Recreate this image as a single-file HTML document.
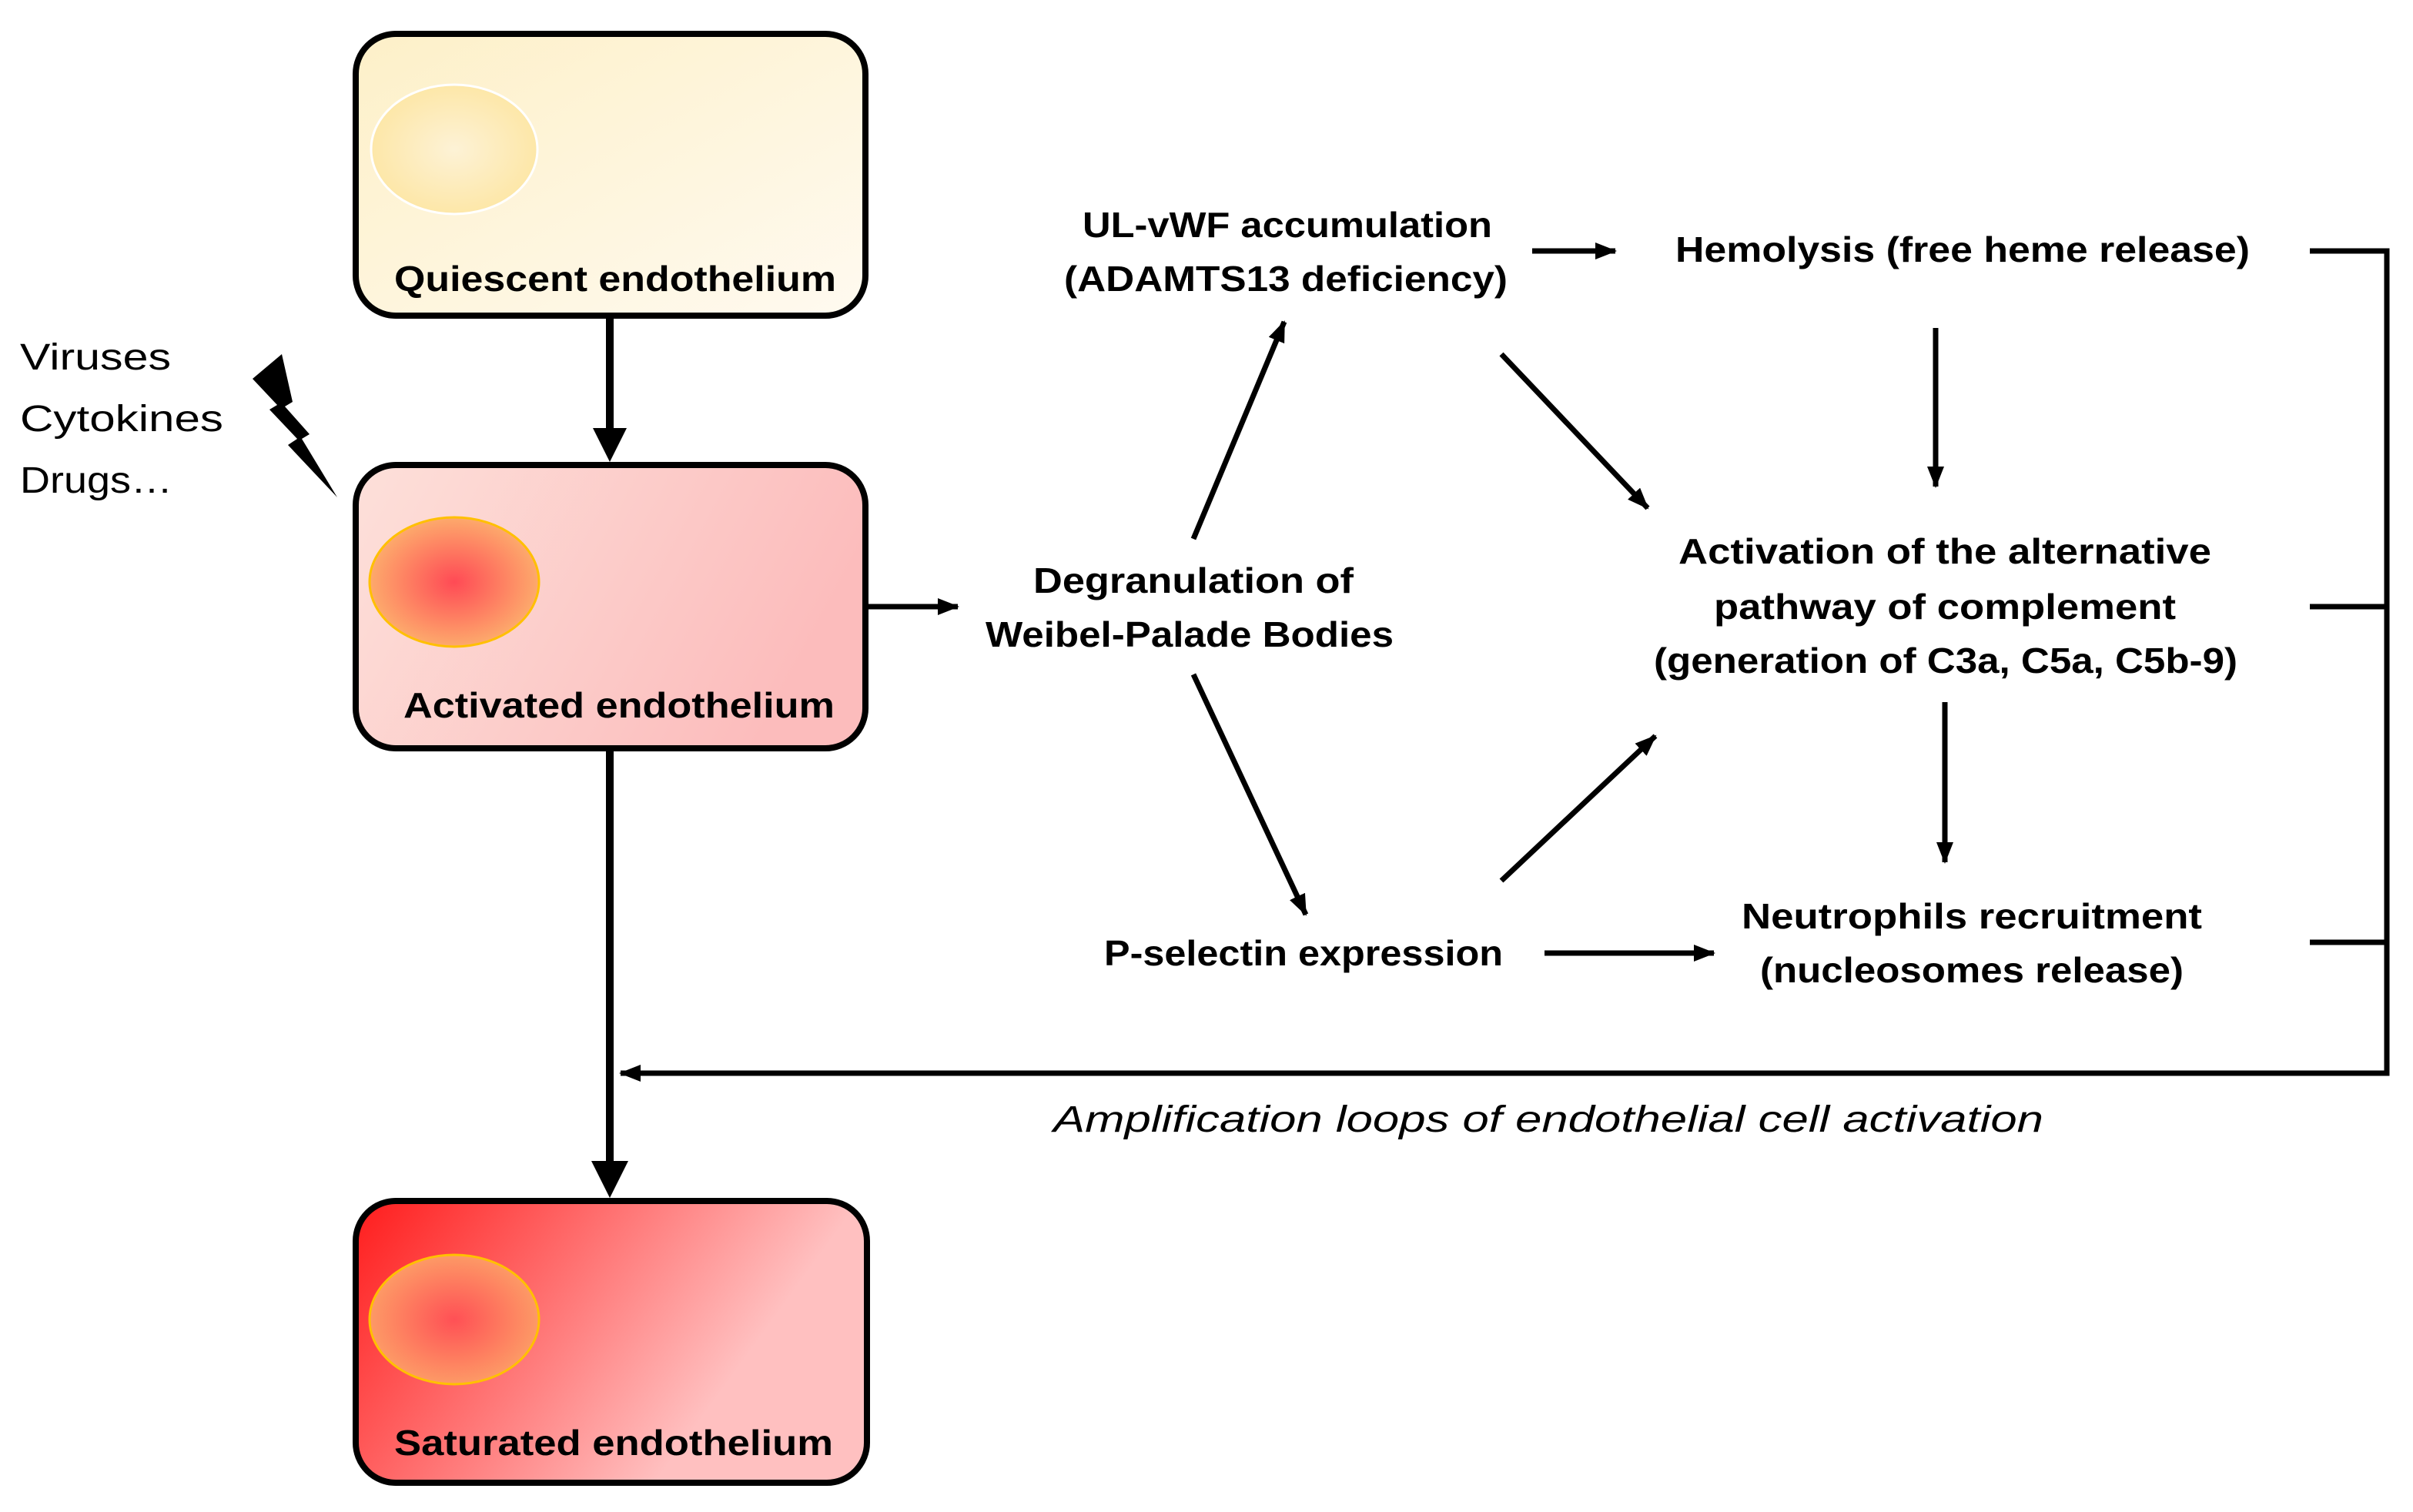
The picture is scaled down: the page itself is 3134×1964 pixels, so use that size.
<!DOCTYPE html>
<html><head><meta charset="utf-8"><style>html,body{margin:0;padding:0;background:#fff}svg{display:block}</style></head>
<body>
<svg width="3134" height="1964" viewBox="0 0 1567 982" xmlns="http://www.w3.org/2000/svg" font-family="Liberation Sans, sans-serif">
<defs>
<linearGradient id="g1" x1="0" y1="0" x2="1" y2="1"><stop offset="0" stop-color="#fdf0c8"/><stop offset="1" stop-color="#fffaf0"/></linearGradient>
<linearGradient id="g2" x1="0" y1="0" x2="1" y2="0.3"><stop offset="0" stop-color="#fde0da"/><stop offset="1" stop-color="#fcbcbc"/></linearGradient>
<linearGradient id="g3" x1="0" y1="0" x2="1" y2="0.4"><stop offset="0" stop-color="#ff1c1c"/><stop offset="0.5" stop-color="#ff7c7c"/><stop offset="0.85" stop-color="#ffc0c0"/><stop offset="1" stop-color="#ffc0c0"/></linearGradient>
<radialGradient id="n1"><stop offset="0" stop-color="#fdf2d6"/><stop offset="1" stop-color="#fde7a8"/></radialGradient>
<radialGradient id="n2"><stop offset="0" stop-color="#ff4a55"/><stop offset="1" stop-color="#fdaa6c"/></radialGradient>
<radialGradient id="n3"><stop offset="0" stop-color="#ff5055"/><stop offset="1" stop-color="#fd9a66"/></radialGradient>
<marker id="ah" markerWidth="14" markerHeight="11" refX="13" refY="5.5" orient="auto" markerUnits="userSpaceOnUse"><path d="M0,0 L14,5.5 L0,11 z" fill="#000"/></marker>
</defs>

<rect x="231" y="22" width="331" height="183" rx="26" fill="url(#g1)" stroke="#000" stroke-width="4"/>
<ellipse cx="295" cy="97" rx="54" ry="42" fill="url(#n1)" stroke="#fff" stroke-width="1.5"/>
<text x="256" y="189" font-size="23" font-weight="bold" textLength="287" lengthAdjust="spacingAndGlyphs">Quiescent endothelium</text>

<rect x="231" y="302" width="331" height="184" rx="26" fill="url(#g2)" stroke="#000" stroke-width="4"/>
<ellipse cx="295" cy="378" rx="55" ry="42" fill="url(#n2)" stroke="#ffc000" stroke-width="1.5"/>
<text x="262" y="466" font-size="23" font-weight="bold" textLength="280" lengthAdjust="spacingAndGlyphs">Activated endothelium</text>

<rect x="231" y="780" width="332" height="183" rx="26" fill="url(#g3)" stroke="#000" stroke-width="4"/>
<ellipse cx="295" cy="857" rx="55" ry="42" fill="url(#n3)" stroke="#ffc000" stroke-width="1.5"/>
<text x="256" y="945" font-size="23" font-weight="bold" textLength="285" lengthAdjust="spacingAndGlyphs">Saturated endothelium</text>

<text x="13" y="240" font-size="24" textLength="98" lengthAdjust="spacingAndGlyphs">Viruses</text>
<text x="13" y="280" font-size="24" textLength="132" lengthAdjust="spacingAndGlyphs">Cytokines</text>
<text x="13" y="320" font-size="24" textLength="99" lengthAdjust="spacingAndGlyphs">Drugs…</text>
<path d="M164,246 L183,230 L190,261 L185,264 L201,282 L196,285 L219,323 L187,289 L193,285 L175,266 L180,263 Z" fill="#000"/>

<line x1="396" y1="205" x2="396" y2="280" stroke="#000" stroke-width="5"/>
<path d="M385,278 L407,278 L396,300 Z" fill="#000"/>
<line x1="396" y1="486" x2="396" y2="758" stroke="#000" stroke-width="5"/>
<path d="M384,754 L408,754 L396,778 Z" fill="#000"/>

<line x1="562" y1="394" x2="622" y2="394" stroke="#000" stroke-width="3.5" marker-end="url(#ah)"/>

<g stroke="#000" stroke-width="3.5" fill="none">
<line x1="775" y1="350" x2="834" y2="209" marker-end="url(#ah)"/>
<line x1="775" y1="438" x2="848" y2="594" marker-end="url(#ah)"/>
<line x1="995" y1="163" x2="1049" y2="163" marker-end="url(#ah)"/>
<line x1="1257" y1="213" x2="1257" y2="316" marker-end="url(#ah)"/>
<line x1="975" y1="230" x2="1070" y2="330" marker-end="url(#ah)"/>
<line x1="975" y1="572" x2="1075" y2="478" marker-end="url(#ah)"/>
<line x1="1263" y1="456" x2="1263" y2="560" marker-end="url(#ah)"/>
<line x1="1003" y1="619" x2="1113" y2="619" marker-end="url(#ah)"/>
<polyline points="1500,163 1550,163 1550,697 403,697" marker-end="url(#ah)"/>
<line x1="1500" y1="394" x2="1550" y2="394"/>
<line x1="1500" y1="612" x2="1550" y2="612"/>
</g>

<g font-size="23" font-weight="bold">
<text x="671" y="385" textLength="208" lengthAdjust="spacingAndGlyphs">Degranulation of</text>
<text x="640" y="420" textLength="265" lengthAdjust="spacingAndGlyphs">Weibel-Palade Bodies</text>
<text x="703" y="154" textLength="266" lengthAdjust="spacingAndGlyphs">UL-vWF accumulation</text>
<text x="691" y="189" textLength="288" lengthAdjust="spacingAndGlyphs">(ADAMTS13 deficiency)</text>
<text x="1088" y="170" textLength="373" lengthAdjust="spacingAndGlyphs">Hemolysis (free heme release)</text>
<text x="1090" y="366" textLength="346" lengthAdjust="spacingAndGlyphs">Activation of the alternative</text>
<text x="1113" y="402" textLength="300" lengthAdjust="spacingAndGlyphs">pathway of complement</text>
<text x="1074" y="437" textLength="379" lengthAdjust="spacingAndGlyphs">(generation of C3a, C5a, C5b-9)</text>
<text x="717" y="627" textLength="259" lengthAdjust="spacingAndGlyphs">P-selectin expression</text>
<text x="1131" y="603" textLength="299" lengthAdjust="spacingAndGlyphs">Neutrophils recruitment</text>
<text x="1143" y="638" textLength="275" lengthAdjust="spacingAndGlyphs">(nucleosomes release)</text>
</g>
<text x="684" y="735" font-size="24" font-style="italic" textLength="643" lengthAdjust="spacingAndGlyphs">Amplification loops of endothelial cell activation</text>
</svg>
</body></html>
